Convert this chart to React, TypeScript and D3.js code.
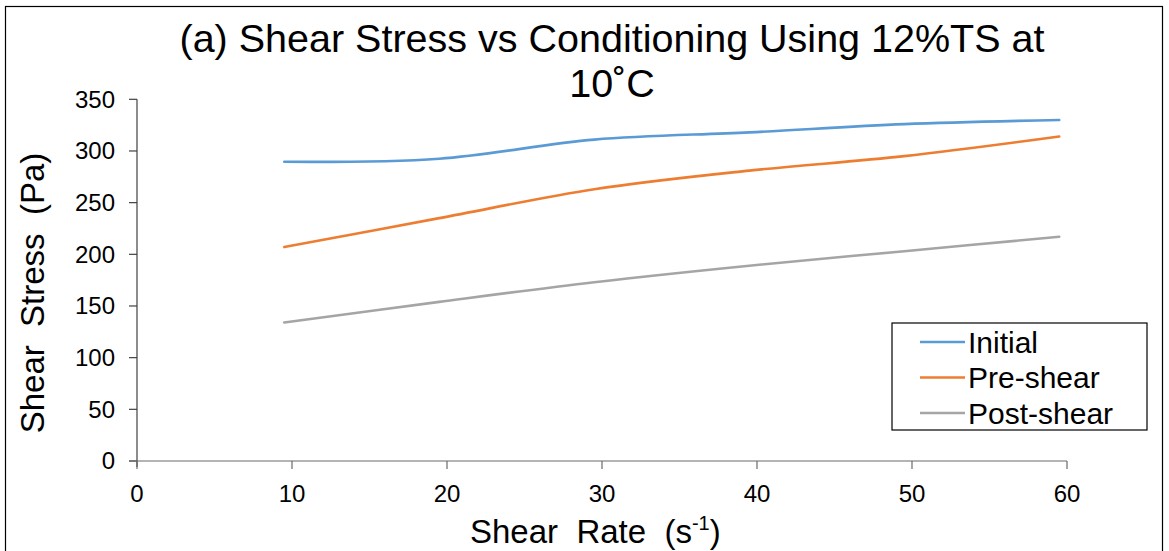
import React from "react";
import * as d3 from "d3";

// Shear rate (1/s) at which each reading was taken
const shearRates = [9.5, 19.5, 29.5, 39.5, 49.5, 59.5];

// Shear stress (Pa) for each conditioning stage
const initialStress = [289.5, 292.5, 311, 318, 326, 330];
const preShearStress = [207, 235, 263, 281, 295, 314];
const postShearStress = [134, 154, 173, 189, 203, 217];

const seriesNames = ["Initial", "Pre-shear", "Post-shear"];
const seriesColors = ["#5B9BD5", "#ED7D31", "#A5A5A5"];

const xTicks = [0, 10, 20, 30, 40, 50, 60];
const yTicks = [0, 50, 100, 150, 200, 250, 300, 350];

const W = 1169;
const H = 551;
const FONT = "'Liberation Sans', Arial, sans-serif";

export default function App() {
  const x = d3.scaleLinear().domain([0, 60]).range([137, 1067]);
  const y = d3.scaleLinear().domain([0, 350]).range([461, 99.3]);

  const series = [initialStress, preShearStress, postShearStress];
  const line = d3
    .line<[number, number]>()
    .x((d) => x(d[0]))
    .y((d) => y(d[1]))
    .curve(d3.curveCatmullRom.alpha(0.5));

  const legendX = 892;
  const legendY = 323;
  const rowH = 35.5;

  return (
    <svg
      width={W}
      height={H}
      style={{ position: "absolute", left: 0, top: 0, background: "#fff" }}
      fontFamily={FONT}
    >
      <rect x={5.5} y={6.5} width={1157} height={560} fill="#fff" stroke="#000" strokeWidth={1.2} />

      {/* title */}
      <text x={612} y={52} textAnchor="middle" fontSize={39.5} fill="#000">
        (a) Shear Stress vs Conditioning Using 12%TS at
      </text>
      <text x={612} y={97} textAnchor="middle" fontSize={39.5} fill="#000">
        10˚C
      </text>

      {/* y axis */}
      <line x1={x(0)} x2={x(0)} y1={y(350)} y2={y(0) + 6} stroke="#404040" strokeWidth={1.2} />
      {yTicks.map((t) => (
        <g key={"y" + t}>
          <line x1={x(0) - 8} x2={x(0)} y1={y(t)} y2={y(t)} stroke="#404040" strokeWidth={1.2} />
          <text x={115} y={y(t)} dy="0.35em" textAnchor="end" fontSize={24} fill="#000">
            {t}
          </text>
        </g>
      ))}

      {/* x axis */}
      <line x1={x(0) - 8} x2={x(60)} y1={y(0)} y2={y(0)} stroke="#6a6a6a" strokeWidth={1.2} />
      {xTicks.map((t) => (
        <g key={"x" + t}>
          <line x1={x(t)} x2={x(t)} y1={y(0)} y2={y(0) + 8} stroke="#6a6a6a" strokeWidth={1.2} />
          <text x={x(t)} y={502} textAnchor="middle" fontSize={24} fill="#000">
            {t}
          </text>
        </g>
      ))}

      {/* axis titles */}
      <text x={470} y={543} fontSize={33} fill="#000" style={{ whiteSpace: "pre" }}>
        <tspan>{"Shear  Rate  (s"}</tspan>
        <tspan fontSize={20} dy={-13}>
          {"-1"}
        </tspan>
        <tspan dy={13}>{")"}</tspan>
      </text>
      <text
        transform={`translate(44, 293) rotate(-90)`}
        textAnchor="middle"
        fontSize={33}
        fill="#000"
        style={{ whiteSpace: "pre" }}
      >
        {"Shear  Stress  (Pa)"}
      </text>

      {/* data lines */}
      {series.map((vals, i) => (
        <path
          key={seriesNames[i]}
          d={line(shearRates.map((r, j) => [r, vals[j]]) as [number, number][]) ?? ""}
          fill="none"
          stroke={seriesColors[i]}
          strokeWidth={2.6}
          strokeLinecap="round"
        />
      ))}

      {/* legend */}
      <rect x={legendX} y={legendY} width={255} height={107} fill="#fff" stroke="#000" strokeWidth={1.2} />
      {seriesNames.map((name, i) => {
        const cy = legendY + 19 + i * rowH;
        return (
          <g key={"leg" + name}>
            <line x1={920} x2={965} y1={cy} y2={cy} stroke={seriesColors[i]} strokeWidth={2.6} />
            <text x={968} y={cy} dy="0.36em" fontSize={30} fill="#000">
              {name}
            </text>
          </g>
        );
      })}
    </svg>
  );
}
